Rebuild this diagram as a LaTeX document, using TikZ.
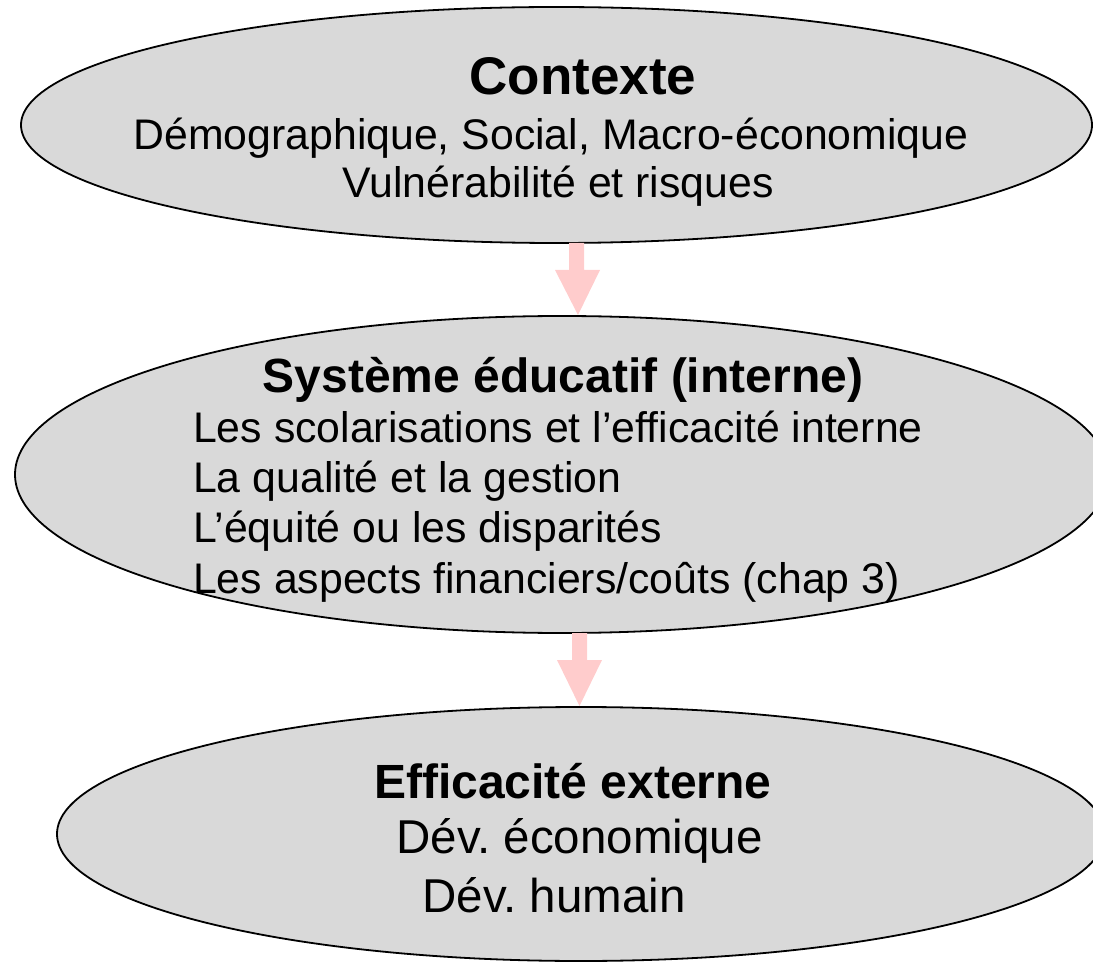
\documentclass[tikz,border=0pt]{standalone}
\usepackage{fontspec}
\setmainfont{Liberation Sans}
\usetikzlibrary{shapes.geometric}
\frenchspacing
\begin{document}
\begin{tikzpicture}[x=1pt,y=-1pt,
  ell/.style={ellipse,draw=black,line width=1.8pt,fill=ellgray,inner sep=0pt},
  arr/.style={fill=arrpink,draw=none},
  body/.style={anchor=base,inner sep=0pt,font=\fontsize{42.8}{50}\selectfont},
  bodyl/.style={anchor=base west,inner sep=0pt,font=\fontsize{42.8}{50}\selectfont},
  bigbody/.style={anchor=base,inner sep=0pt,font=\fontsize{47.5}{55}\selectfont},
  ttl/.style={anchor=base,inner sep=0pt,font=\fontsize{48}{56}\selectfont\bfseries}]
\definecolor{ellgray}{HTML}{D9D9D9}
\definecolor{arrpink}{HTML}{FFCCCC}
\useasboundingbox (0,0) rectangle (1093,965);
% ellipses
\node[ell,minimum width=1071pt,minimum height=236pt] (ctx) at (556.5,125) {};
\node[ell,minimum width=1094pt,minimum height=317pt] (sys) at (562,474.5) {};
\node[ell,minimum width=1048pt,minimum height=254pt] (ext) at (581,834) {};
% arrows
\fill[arr] (569,243) -- (584,243) -- (584,270) -- (600,270) -- (578,315) -- (555,270) -- (569,270) -- cycle;
\fill[arr] (572,633) -- (587,633) -- (587,660) -- (602,660) -- (579.5,706) -- (557,660) -- (572,660) -- cycle;
% texts
\node[ttl,font=\fontsize{53}{60}\selectfont\bfseries] (t1) at (583,95) {Contexte};
\node[body] (t1a) at (551,150) {Démographique, Social, Macro-économique};
\node[body] (t1b) at (558,198) {Vulnérabilité et risques};
\node[ttl] (t2) at (563,393) {Système éducatif (interne)};
\node[bodyl] (t2a) at (193,443) {Les scolarisations et l’efficacité interne};
\node[bodyl] (t2b) at (193,493) {La qualité et la gestion};
\node[bodyl] (t2c) at (193,543) {L’équité ou les disparités};
\node[bodyl] (t2d) at (193,593) {Les aspects financiers/coûts (chap 3)};
\node[ttl] (t3) at (573,798) {Efficacité externe};
\node[bigbody] (t3a) at (579.5,853) {Dév. économique};
\node[bigbody] (t3b) at (554,912) {Dév. humain};
\end{tikzpicture}
\end{document}
